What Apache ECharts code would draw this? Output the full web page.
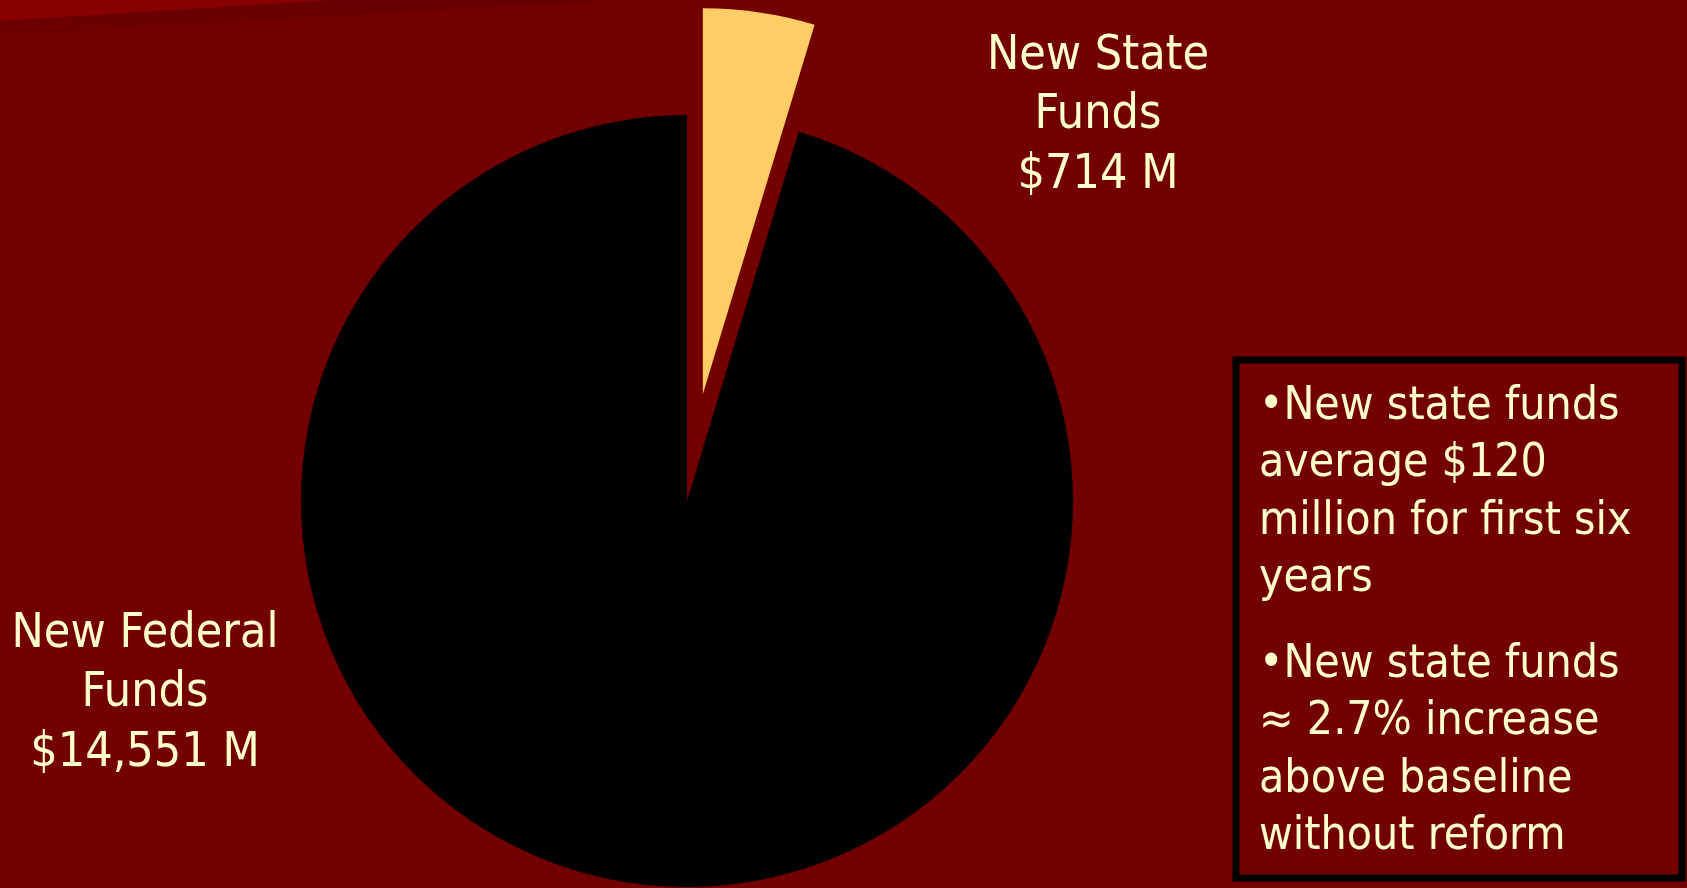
<!DOCTYPE html>
<html>
<head>
<meta charset="utf-8">
<script src="https://cdn.jsdelivr.net/npm/echarts@6/dist/echarts.min.js"></script>
<style>
html,body{margin:0;padding:0;background:#720000;}
#chart{width:1687px;height:888px;}
</style>
</head>
<body>
<div id="chart"></div>
<script>
const categories = ["New State Funds", "New Federal Funds"];
const labelLines = [["New State", "Funds", "$714 M"], ["New Federal", "Funds", "$14,551 M"]];
const values = [714, 14551];
const noteLines1 = ["•New state funds", "average $120", "million for first six", "years"];
const noteLines2 = ["•New state funds", "≈ 2.7% increase", "above baseline", "without reform"];

const colors = ["#FFCC66", "#000000"];
const labelCenters = [[1098, 116], [145, 694]];

const chart = echarts.init(document.getElementById('chart'), null, {renderer: 'canvas'});
const labelGraphics = labelLines.map((lines, i) => ({
  type: 'text', x: labelCenters[i][0], y: labelCenters[i][1], z: 3,
  style: {text: lines.join('\n'), fill: '#FFFFCC', font: '48px "DejaVu Sans Condensed"', lineHeight: 59.5,
          align: 'center', verticalAlign: 'middle'}
}));
chart.setOption({
  backgroundColor: '#720000',
  animation: false,
  graphic: [
    {type: 'polygon', shape: {points: [[0, 0], [335, 0], [0, 21]]}, style: {fill: '#880000'}, z: 0},
    {type: 'polygon', shape: {points: [[0, 21], [335, 0], [620, 0], [0, 35]]},
     style: {fill: new echarts.graphic.LinearGradient(0, 0, 0, 1, [{offset: 0, color: '#660000'}, {offset: 1, color: '#6e0000'}])}, z: 0},
    {type: 'rect', shape: {x: 1236, y: 360, width: 446, height: 518},
     style: {fill: '#720000', stroke: '#000000', lineWidth: 7}, z: 1},
    {type: 'text', left: 1259, top: 378, z: 2,
     style: {text: noteLines1.join('\n'), fill: '#FFFFCC', font: '46px "DejaVu Sans Condensed"', lineHeight: 57.5}},
    {type: 'text', left: 1259, top: 636, z: 2,
     style: {text: noteLines2.join('\n'), fill: '#FFFFCC', font: '46px "DejaVu Sans Condensed"', lineHeight: 57.5}}
  ].concat(labelGraphics),
  series: [{
    type: 'pie',
    center: [687, 501],
    radius: 386,
    startAngle: 90,
    clockwise: true,
    selectedMode: 'single',
    selectedOffset: 108,
    avoidLabelOverlap: false,
    silent: true,
    emphasis: {disabled: true},
    labelLine: {show: false},
    label: {show: false},
    data: categories.map((c, i) => ({name: c, value: values[i], selected: i === 0, itemStyle: {color: colors[i]}}))
  }]
});
</script>
</body>
</html>
